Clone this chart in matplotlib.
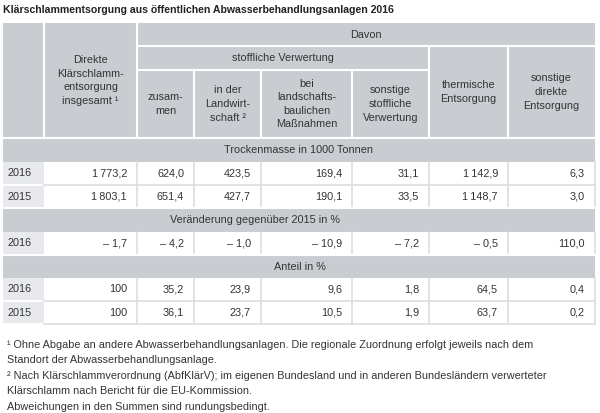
import matplotlib
matplotlib.use("Agg")
import matplotlib.pyplot as plt
from matplotlib.patches import Rectangle

plt.rcParams['font.family'] = ['Liberation Sans', 'DejaVu Sans']

title = "Klärschlammentsorgung aus öffentlichen Abwasserbehandlungsanlagen 2016"
years = ["2016", "2015"]
col_heads = ["zusam-\nmen", "in der\nLandwirt-\nschaft ²", "bei\nlandschafts-\nbaulichen\nMaßnahmen",
             "sonstige\nstoffliche\nVerwertung"]
first_head = "Direkte\nKlärschlamm-\nentsorgung\ninsgesamt ¹"
therm_head = "thermische\nEntsorgung"
direkt_head = "sonstige\ndirekte\nEntsorgung"
sections = ["Trockenmasse in 1000 Tonnen", "Veränderung gegenüber 2015 in %", "Anteil in %"]

trocken_2016 = [1773.2, 624.0, 423.5, 169.4, 31.1, 1142.9, 6.3]
trocken_2015 = [1803.1, 651.4, 427.7, 190.1, 33.5, 1148.7, 3.0]
veraend_2016 = [-1.7, -4.2, -1.0, -10.9, -7.2, -0.5, 110.0]
anteil_2016 = [100, 35.2, 23.9, 9.6, 1.8, 64.5, 0.4]
anteil_2015 = [100, 36.1, 23.7, 10.5, 1.9, 63.7, 0.2]

footnotes = [
    "¹ Ohne Abgabe an andere Abwasserbehandlungsanlagen. Die regionale Zuordnung erfolgt jeweils nach dem",
    "Standort der Abwasserbehandlungsanlage.",
    "² Nach Klärschlammverordnung (AbfKlärV); im eigenen Bundesland und in anderen Bundesländern verwerteter",
    "Klärschlamm nach Bericht für die EU-Kommission.",
    "Abweichungen in den Summen sind rundungsbedingt.",
]


def fmt(v):
    if isinstance(v, int):
        return str(v)
    s = f"{abs(v):,.1f}".replace(",", "\u2009").replace(".", ",")
    return ("\u2013 " + s) if v < 0 else s


HEAD = "#c9ccd1"
YEAR = "#e7e9ec"
GRID = "#dcdde0"
TXT = "#333333"
FS = 7.8

fig = plt.figure(figsize=(6, 4.13), dpi=100)
ax = fig.add_axes([0, 0, 1, 1])
ax.set_xlim(0, 600)
ax.set_ylim(413, 0)
ax.axis("off")

xe = [3, 44, 137, 194, 261, 352, 429, 508, 595]
L, R = xe[0], xe[-1]

ax.text(3, 10, title, fontsize=7.6, fontweight="bold", color="#222222", va="center", ha="left")

# header block
ax.add_patch(Rectangle((L, 23), R - L, 115, color=HEAD, lw=0))
wl = dict(color="white", lw=1.5)
ax.plot([44, 44], [23, 138], **wl)
ax.plot([137, 137], [23, 138], **wl)
ax.plot([137, R], [46, 46], **wl)
ax.plot([137, 429], [70, 70], **wl)
for x in [194, 261, 352]:
    ax.plot([x, x], [70, 138], **wl)
for x in [429, 508]:
    ax.plot([x, x], [46, 138], **wl)

ax.text((44 + 137) / 2, 80.5, first_head, fontsize=FS, color=TXT, ha="center", va="center", linespacing=1.45)
ax.text((137 + R) / 2, 34.5, "Davon", fontsize=FS, color=TXT, ha="center", va="center")
ax.text((137 + 429) / 2, 58, "stoffliche Verwertung", fontsize=FS, color=TXT, ha="center", va="center")
for i, h in enumerate(col_heads):
    ax.text((xe[i + 2] + xe[i + 3]) / 2, 104, h, fontsize=FS, color=TXT, ha="center", va="center",
            linespacing=1.45)
ax.text((429 + 508) / 2, 92, therm_head, fontsize=FS, color=TXT, ha="center", va="center", linespacing=1.45)
ax.text((508 + R) / 2, 92, direkt_head, fontsize=FS, color=TXT, ha="center", va="center", linespacing=1.45)


def section(y0, y1, label, xc):
    ax.add_patch(Rectangle((L, y0), R - L, y1 - y0, color=HEAD, lw=0))
    ax.plot([L, R], [y0, y0], **wl)
    ax.text(xc, (y0 + y1) / 2, label, fontsize=FS, color=TXT, ha="center", va="center")


def datarow(y0, y1, year, vals):
    ax.add_patch(Rectangle((L, y0), 44 - L, y1 - y0, color=YEAR, lw=0))
    ax.plot([L, 44], [y1, y1], **wl)
    ax.plot([44, R], [y1, y1], color=GRID, lw=1.2)
    for x in xe[2:-1]:
        ax.plot([x, x], [y0, y1], color=GRID, lw=1.2)
    ax.plot([R, R], [y0, y1], color=GRID, lw=1.2)
    ym = (y0 + y1) / 2
    ax.text(7, ym, year, fontsize=FS, color=TXT, ha="left", va="center")
    for i, v in enumerate(vals):
        ax.text(xe[i + 2] - 10, ym, fmt(v), fontsize=FS, color=TXT, ha="right", va="center")


section(138, 162, sections[0], 299)
datarow(162, 185, years[0], trocken_2016)
datarow(185, 208, years[1], trocken_2015)
section(208, 232, sections[1], 255)
datarow(232, 255, years[0], veraend_2016)
section(255, 278, sections[2], 300)
datarow(278, 301, years[0], anteil_2016)
datarow(301, 324, years[1], anteil_2015)

for i, line in enumerate(footnotes):
    ax.text(7, 345 + i * 15.4, line, fontsize=7.85, color=TXT, ha="left", va="center")

fig.savefig("out.png", dpi=100, facecolor="white")
